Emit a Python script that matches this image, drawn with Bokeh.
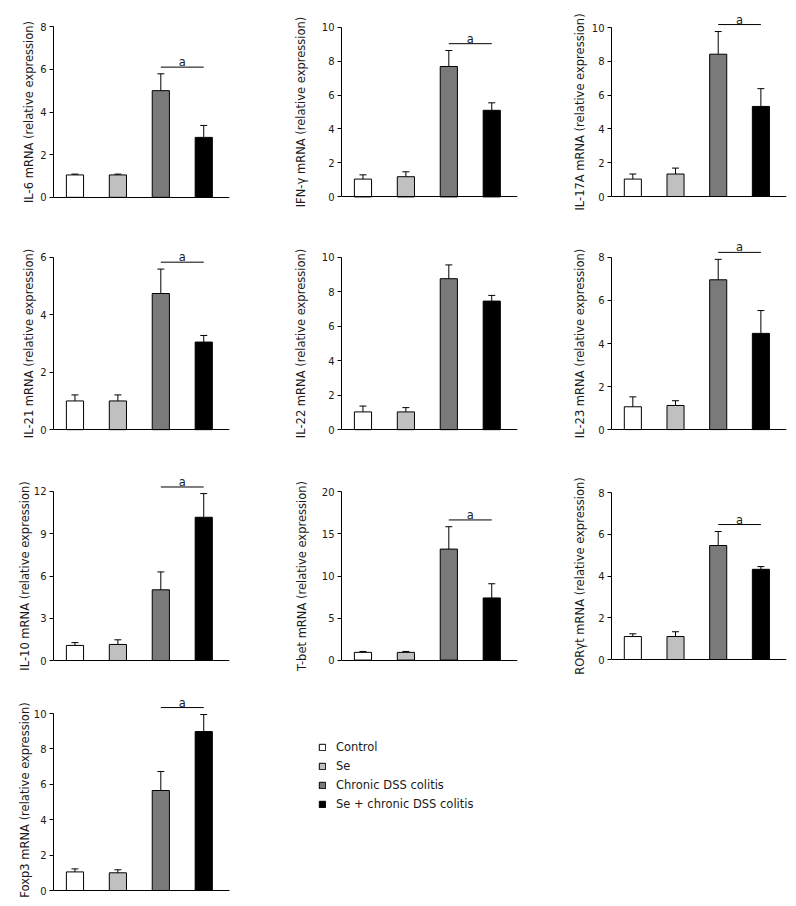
from bokeh.plotting import figure
from bokeh.models import (Range1d, FixedTicker, ColumnDataSource, Whisker, TeeHead,
                          Arrow, Label, Legend, LegendItem)
from bokeh.layouts import column, row
from bokeh.embed import file_html
from bokeh.resources import INLINE

# ---------------- data ----------------
groups = ["Control", "Se", "Chronic DSS colitis", "Se + chronic DSS colitis"]
colors = ["#ffffff", "#c0c0c0", "#7a7a7a", "#000000"]

genes = ["IL-6", "IFN-\u03b3", "IL-17A", "IL-21", "IL-22", "IL-23",
         "IL-10", "T-bet", "ROR\u03b3t", "Foxp3"]

il6_mean = [1.05, 1.05, 5.00, 2.81]
il6_err = [0.04, 0.04, 0.79, 0.56]
ifng_mean = [1.05, 1.19, 7.68, 5.10]
ifng_err = [0.25, 0.29, 0.94, 0.44]
il17a_mean = [1.03, 1.33, 8.42, 5.33]
il17a_err = [0.30, 0.35, 1.34, 1.05]
il21_mean = [1.00, 1.00, 4.74, 3.05]
il21_err = [0.21, 0.21, 0.85, 0.23]
il22_mean = [1.03, 1.03, 8.76, 7.46]
il22_err = [0.34, 0.25, 0.80, 0.33]
il23_mean = [1.06, 1.12, 6.96, 4.47]
il23_err = [0.46, 0.22, 0.95, 1.06]
il10_mean = [1.07, 1.14, 5.02, 10.17]
il10_err = [0.20, 0.33, 1.27, 1.68]
tbet_mean = [0.92, 0.92, 13.20, 7.39]
tbet_err = [0.11, 0.11, 2.66, 1.69]
rorgt_mean = [1.10, 1.10, 5.46, 4.32]
rorgt_err = [0.13, 0.23, 0.67, 0.13]
foxp3_mean = [1.05, 1.00, 5.65, 8.98]
foxp3_err = [0.17, 0.17, 1.07, 0.96]

means = [il6_mean, ifng_mean, il17a_mean, il21_mean, il22_mean, il23_mean,
         il10_mean, tbet_mean, rorgt_mean, foxp3_mean]
errs = [il6_err, ifng_err, il17a_err, il21_err, il22_err, il23_err,
        il10_err, tbet_err, rorgt_err, foxp3_err]

y_max = [8, 10, 10, 6, 10, 8, 12, 20, 8, 10]
y_ticks = [[0, 2, 4, 6, 8], [0, 2, 4, 6, 8, 10], [0, 2, 4, 6, 8, 10],
           [0, 2, 4, 6], [0, 2, 4, 6, 8, 10], [0, 2, 4, 6, 8],
           [0, 3, 6, 9, 12], [0, 5, 10, 15, 20], [0, 2, 4, 6, 8],
           [0, 2, 4, 6, 8, 10]]
significant = [True, True, True, True, False, True, True, True, True, True]
sig_label = "a"

# ---------------- layout (styles / positions) ----------------
FONT = "DejaVu Sans"
TXT = "#1a1a1a"
col_w = [270, 260, 264]
col_bl = [53, 71, 81]
col_fw = [176, 176, 175]
row_h = [232, 230, 228, 214]
# (border_top, axis height in px, axis_label_standoff) per panel
geo = [(19, 179, 1), (24, 174, 11), (27, 169, 2),
       (23, 174, 1), (23, 174, 11), (25, 173, 8),
       (18, 179, -1), (23, 174, 10), (30, 167, 8),
       (23, 177, -1)]
X_END = 4.1
LEGEND_FIG_W = 260


def make_panel(i):
    r, c = divmod(i, 3)
    bt, ah, als = geo[i]
    W, H = col_w[c], row_h[r]
    bb = H - bt - ah
    ext = min(bt, 18)            # frame extends above the axis top for annotations
    extb = min(ext, bb)          # ... and below zero to keep the axis label centred
    fh = ah + ext + extb
    bl, fw = col_bl[c], col_fw[c]
    x_end = X_END
    if i == 9:                   # last panel also hosts the legend to its right
        W = W + LEGEND_FIG_W
        fw_full = W - bl
        x_end = X_END * fw_full / fw
        fw = fw_full
    top = y_max[i]
    p = figure(width=W, height=H, output_backend="svg", toolbar_location=None,
               x_range=Range1d(0, x_end),
               y_range=Range1d(-top * extb / ah, top * (ah + ext) / ah),
               min_border_left=bl, min_border_right=W - bl - fw,
               min_border_top=bt - ext, min_border_bottom=bb - extb,
               title=None, tools="")
    p.outline_line_color = None
    p.xgrid.visible = False
    p.ygrid.visible = False
    p.background_fill_color = "white"
    p.border_fill_color = "white"

    xs = [k + 0.5 for k in range(len(groups))]
    m = means[i]
    e = errs[i]
    src = ColumnDataSource(dict(x=xs, top=m, upper=[a + b for a, b in zip(m, e)],
                                color=colors))
    w = Whisker(source=src, base="x", lower="top", upper="upper", dimension="height",
                line_color="black", line_width=1,
                upper_head=TeeHead(size=7, line_color="black", line_width=1),
                lower_head=None, level="glyph")
    p.add_layout(w)
    bars = p.vbar(x="x", top="top", width=0.4, bottom=0, source=src, fill_color="color",
                  line_color="black", line_width=1)

    if significant[i]:
        hi = max(m[2] + e[2], m[3] + e[3])
        yl = hi + 7 * top / ah
        p.add_layout(Arrow(x_start=xs[2], y_start=yl, x_end=xs[3], y_end=yl,
                           start=None, end=None, line_color="black", line_width=1))
        p.add_layout(Label(x=(xs[2] + xs[3]) / 2, y=yl, text=sig_label,
                           text_align="center", text_baseline="alphabetic",
                           y_offset=5, text_font=FONT, text_font_size="11.5px",
                           text_color=TXT))

    ya = p.yaxis[0]
    ya.ticker = FixedTicker(ticks=y_ticks[i])
    ya.bounds = (0, top)
    ya.minor_tick_line_color = None
    ya.major_tick_in = 0
    ya.major_tick_out = 4
    ya.major_label_standoff = 3
    ya.major_label_text_font = FONT
    ya.major_label_text_font_size = "10px"
    ya.major_label_text_color = TXT
    ya.axis_line_color = "black"
    ya.major_tick_line_color = "black"
    ya.axis_label = genes[i] + " mRNA (relative expression)"
    ya.axis_label_text_font = FONT
    ya.axis_label_text_font_size = "11.5px"
    ya.axis_label_text_font_style = "normal"
    ya.axis_label_text_color = TXT
    ya.axis_label_standoff = als

    xa = p.xaxis[0]
    xa.ticker = FixedTicker(ticks=[])
    xa.bounds = (0, X_END)
    xa.fixed_location = 0
    xa.minor_tick_line_color = None
    xa.major_tick_line_color = None
    xa.major_label_text_font_size = "0px"
    xa.axis_line_color = "black"

    if i == 9:
        items = [LegendItem(label=g, renderers=[bars], index=k)
                 for k, g in enumerate(groups)]
        legend = Legend(items=items, location=(265, 79 + extb), border_line_color=None,
                        background_fill_alpha=0, padding=0, margin=0, spacing=5,
                        glyph_width=8, glyph_height=8, label_height=13,
                        label_standoff=10, label_text_font=FONT,
                        label_text_font_size="11.5px", label_text_color=TXT)
        p.add_layout(legend)
    return p


panels = [make_panel(i) for i in range(10)]

layout = column(row(panels[0], panels[1], panels[2]),
                row(panels[3], panels[4], panels[5]),
                row(panels[6], panels[7], panels[8]),
                row(panels[9]))

open("out.html", "w").write(file_html(layout, INLINE))
